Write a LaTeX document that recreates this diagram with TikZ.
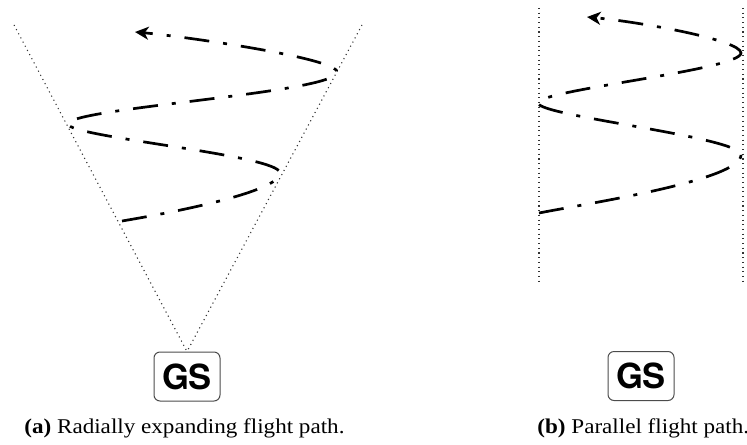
\documentclass[tikz,border=0pt]{standalone}
\usepackage{fontspec}
\usetikzlibrary{arrows.meta}
\newfontfamily\gsfont{TeX Gyre Heros}
\newfontfamily\capserif[FakeStretch=1.1]{Liberation Serif}
\newcommand\capfont{\capserif\fontsize{10.5}{12}\selectfont}

\tikzset{
  guide/.style={line width=0.55pt, black!80, dash pattern=on 0.55pt off 1.8pt},
  flight/.style={line width=1.35pt, dash pattern=on 12.5pt off 7pt on 2pt off 7pt,
    -{Stealth[length=6.8pt,width=6.5pt,inset=2pt]}},
  gsbox/.style={draw=black!70, line width=0.5pt, rounded corners=3pt,
    minimum width=33pt, minimum height=24.5pt, inner sep=0pt,
    font=\gsfont\bfseries\fontsize{17.28}{20}\selectfont},
  caption/.style={anchor=base west, inner sep=0pt, font=\capfont}
}

\begin{document}
\begin{tikzpicture}[x=0.5pt, y=-0.5pt]
  \useasboundingbox (0,0) rectangle (747,444);

  % ---- (a) radially expanding flight path ----
  \node[gsbox] (gsa) at (187,376.5) {GS};
  \coordinate (conel) at (14,25);
  \coordinate (coner) at (362,25);
  \draw[guide] (conel) -- (gsa.north);
  \draw[guide] (coner) -- (gsa.north);

  \coordinate (a0) at (122,221);
  \coordinate (a1) at (280,173);
  \coordinate (a2) at (68,124);
  \coordinate (a3) at (337,72);
  \coordinate (a4) at (135,32);
  \draw[flight] (a0) .. controls (170,213) and (280,192) .. (a1)
                     .. controls (280,155) and (68,137) .. (a2)
                     .. controls (68,108) and (337,93) .. (a3)
                     .. controls (337,58) and (180,36) .. (a4);

  \node[caption] (capa) at (24,433) {\textbf{(a)} Radially expanding flight path.};

  % ---- (b) parallel flight path ----
  \node[gsbox] (gsb) at (641,376) {GS};
  \coordinate (wl0) at (539,8);
  \coordinate (wl1) at (539,282);
  \coordinate (wr0) at (743,8);
  \coordinate (wr1) at (743,282);
  \draw[guide] (wl0) -- (wl1);
  \draw[guide] (wr0) -- (wr1);

  \coordinate (b0) at (539,213);
  \coordinate (b1) at (741,155);
  \coordinate (b2) at (538,103);
  \coordinate (b3) at (741,53);
  \coordinate (b4) at (587,17);
  \draw[flight] (b0) .. controls (590,203) and (741,180) .. (b1)
                     .. controls (741,137) and (538,116) .. (b2)
                     .. controls (538,90) and (741,70) .. (b3)
                     .. controls (741,40) and (640,22) .. (b4);

  \node[caption] (capb) at (537,433) {\textbf{(b)} Parallel flight path.};
\end{tikzpicture}
\end{document}
